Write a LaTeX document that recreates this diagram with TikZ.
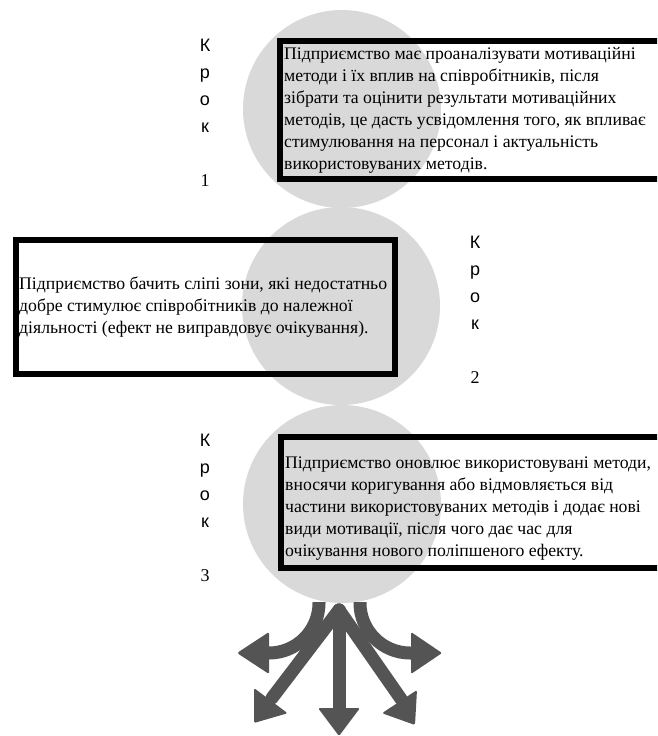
\documentclass[tikz,border=0pt]{standalone}
\usepackage{fontspec}
\setmainfont{Liberation Serif}
\newfontfamily\krokfont{Liberation Sans}
\definecolor{circfill}{HTML}{D9D9D9}
\definecolor{arrowgray}{HTML}{545454}
\tikzset{
  stepcircle/.style={circle, fill=circfill, draw=none, minimum size=198pt, inner sep=0pt},
  stepbox/.style={draw=black, line width=6pt, inner sep=0pt},
  boxtext/.style={anchor=west, align=left, inner sep=0pt, font=\fontsize{17.7}{22}\selectfont},
  kroktext/.style={anchor=north, align=center, inner sep=0pt, font=\krokfont\fontsize{18}{27}\selectfont},
  shaft/.style={draw=arrowgray, line width=13pt},
  head/.style={fill=arrowgray, rounded corners=1.5pt},
}
\begin{document}
\begin{tikzpicture}[x=1pt, y=-1pt]
\useasboundingbox (0,0) rectangle (657,736);
\clip (0,0) rectangle (657,736);
% circles
\node[stepcircle] (c1) at (342,109) {};
\node[stepcircle] (c2) at (341,306) {};
\node[stepcircle] (c3) at (342,504) {};
% boxes
\node[stepbox, minimum width=400pt, minimum height=138pt] (b1) at (480,110) {};
\node[stepbox, minimum width=379pt, minimum height=134pt] (b2) at (205.5,307) {};
\node[stepbox, minimum width=399pt, minimum height=131pt] (b3) at (480.5,502.5) {};
% texts
\node[boxtext] (t1) at ([xshift=7pt]b1.west) {Підприємство має проаналізувати мотиваційні\\методи і їх вплив на співробітників, після\\зібрати та оцінити результати мотиваційних\\методів, це дасть усвідомлення того, як впливає\\стимулювання на персонал і актуальність\\використовуваних методів.};
\node[boxtext] (t2) at ([xshift=6pt]b2.west) {Підприємство бачить сліпі зони, які недостатньо\\добре стимулює співробітників до належної\\діяльності (ефект не виправдовує очікування).};
\node[boxtext] (t3) at ([xshift=7pt,yshift=-6pt]b3.west) {Підприємство оновлює використовувані методи,\\вносячи коригування або відмовляється від\\частини використовуваних методів і додає нові\\види мотивації, після чого дає час для\\очікування нового поліпшеного ефекту.};
% step labels
\node[kroktext] (k1) at (205,38.5) {К\\р\\о\\к\\[27pt]\rmfamily 1};
\node[kroktext] (k2) at (475,235.5) {К\\р\\о\\к\\[27pt]\rmfamily 2};
\node[kroktext] (k3) at (205,433.5) {К\\р\\о\\к\\[27pt]\rmfamily 3};
% arrow geometry
\coordinate (o) at (339,610);
\coordinate (dl) at (254,723);
\coordinate (dr) at (415,725);
\coordinate (dc) at (339,736);
\coordinate (cl) at (237,653);
\coordinate (cr) at (442,653);
% central arrow
\draw[shaft, line cap=round] (o) -- (339,712);
\path[head] (318,708) -- (360,708) -- (dc) -- cycle;
% diagonal arrows
\draw[shaft, line cap=round] (o) -- (272,698);
\path[head] (287.6,713.2) -- (254,688) -- (dl) -- cycle;
\draw[shaft, line cap=round] (o) -- (401,699);
\path[head] (382,713.2) -- (417,690) -- (dr) -- cycle;
% curved arrows
\draw[shaft] (319,602) -- (319,603) .. controls (319,630.6) and (296.6,653) .. (269,653) -- (265,653);
\path[head] (269,632) -- (269,674) -- (cl) -- cycle;
\draw[shaft] (360,602) -- (360,603) .. controls (360,630.6) and (382.4,653) .. (410,653) -- (414,653);
\path[head] (411,632) -- (411,674) -- (cr) -- cycle;
\end{tikzpicture}
\end{document}
